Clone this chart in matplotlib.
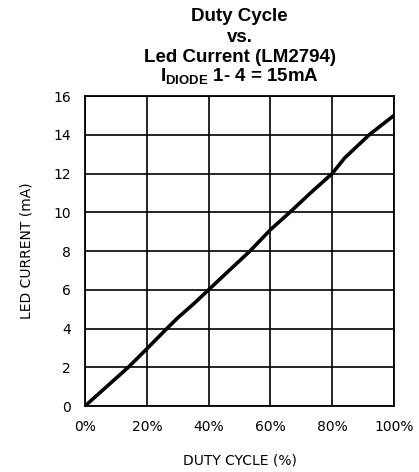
import matplotlib
matplotlib.use("Agg")
import matplotlib.pyplot as plt

duty = [0, 7, 14, 20, 26.5, 30, 35, 40, 46, 53.4, 60, 66.3, 73, 80, 84, 92, 100]
current = [0, 1.0, 2.0, 2.95, 4.0, 4.55, 5.25, 6.0, 6.9, 8.0, 9.1, 10.0, 11.0, 12.0, 12.8, 14.0, 15.0]
xticks = [0, 20, 40, 60, 80, 100]
xticklabels = ["0%", "20%", "40%", "60%", "80%", "100%"]
yticks = [0, 2, 4, 6, 8, 10, 12, 14, 16]

plt.rcParams['mathtext.fontset'] = 'custom'
plt.rcParams['mathtext.bf'] = 'Liberation Sans:bold'
plt.rcParams['mathtext.rm'] = 'Liberation Sans:bold'

fig = plt.figure(figsize=(4.19, 4.72), dpi=100)
ax = fig.add_axes([0.2029, 0.1398, 0.7375, 0.6568])
ax.plot(duty, current, color="black", lw=2.6, solid_capstyle="round", zorder=3)
ax.set_xlim(0, 100)
ax.set_ylim(0, 16)
ax.set_xticks(xticks)
ax.set_xticklabels(xticklabels)
ax.set_yticks(yticks)
ax.grid(True, color="black", lw=1.2)
for s in ax.spines.values():
    s.set_linewidth(1.3)
ax.tick_params(axis="x", length=0, pad=10, labelsize=10)
ax.tick_params(axis="y", length=0, pad=10, labelsize=10)
ax.set_xlabel("DUTY CYCLE (%)", fontsize=10, labelpad=14)
ax.set_ylabel("LED CURRENT (mA)", fontsize=10, labelpad=14)

fs = 13.5
cx = 0.572
fig.text(cx, 0.982, "Duty Cycle", ha="center", va="top", fontsize=fs,
         fontweight="bold", family="Liberation Sans")
fig.text(cx, 0.939, "vs.", ha="center", va="top", fontsize=fs,
         fontweight="bold", family="Liberation Sans")
fig.text(cx, 0.897, "Led Current (LM2794)", ha="center", va="top", fontsize=fs,
         fontweight="bold", family="Liberation Sans")
fig.text(cx, 0.861, r"$\mathbf{I_{DIODE}}$ 1- 4 = 15mA", ha="center", va="top",
         fontsize=fs, fontweight="bold", family="Liberation Sans")

fig.savefig("out.png", dpi=100)
